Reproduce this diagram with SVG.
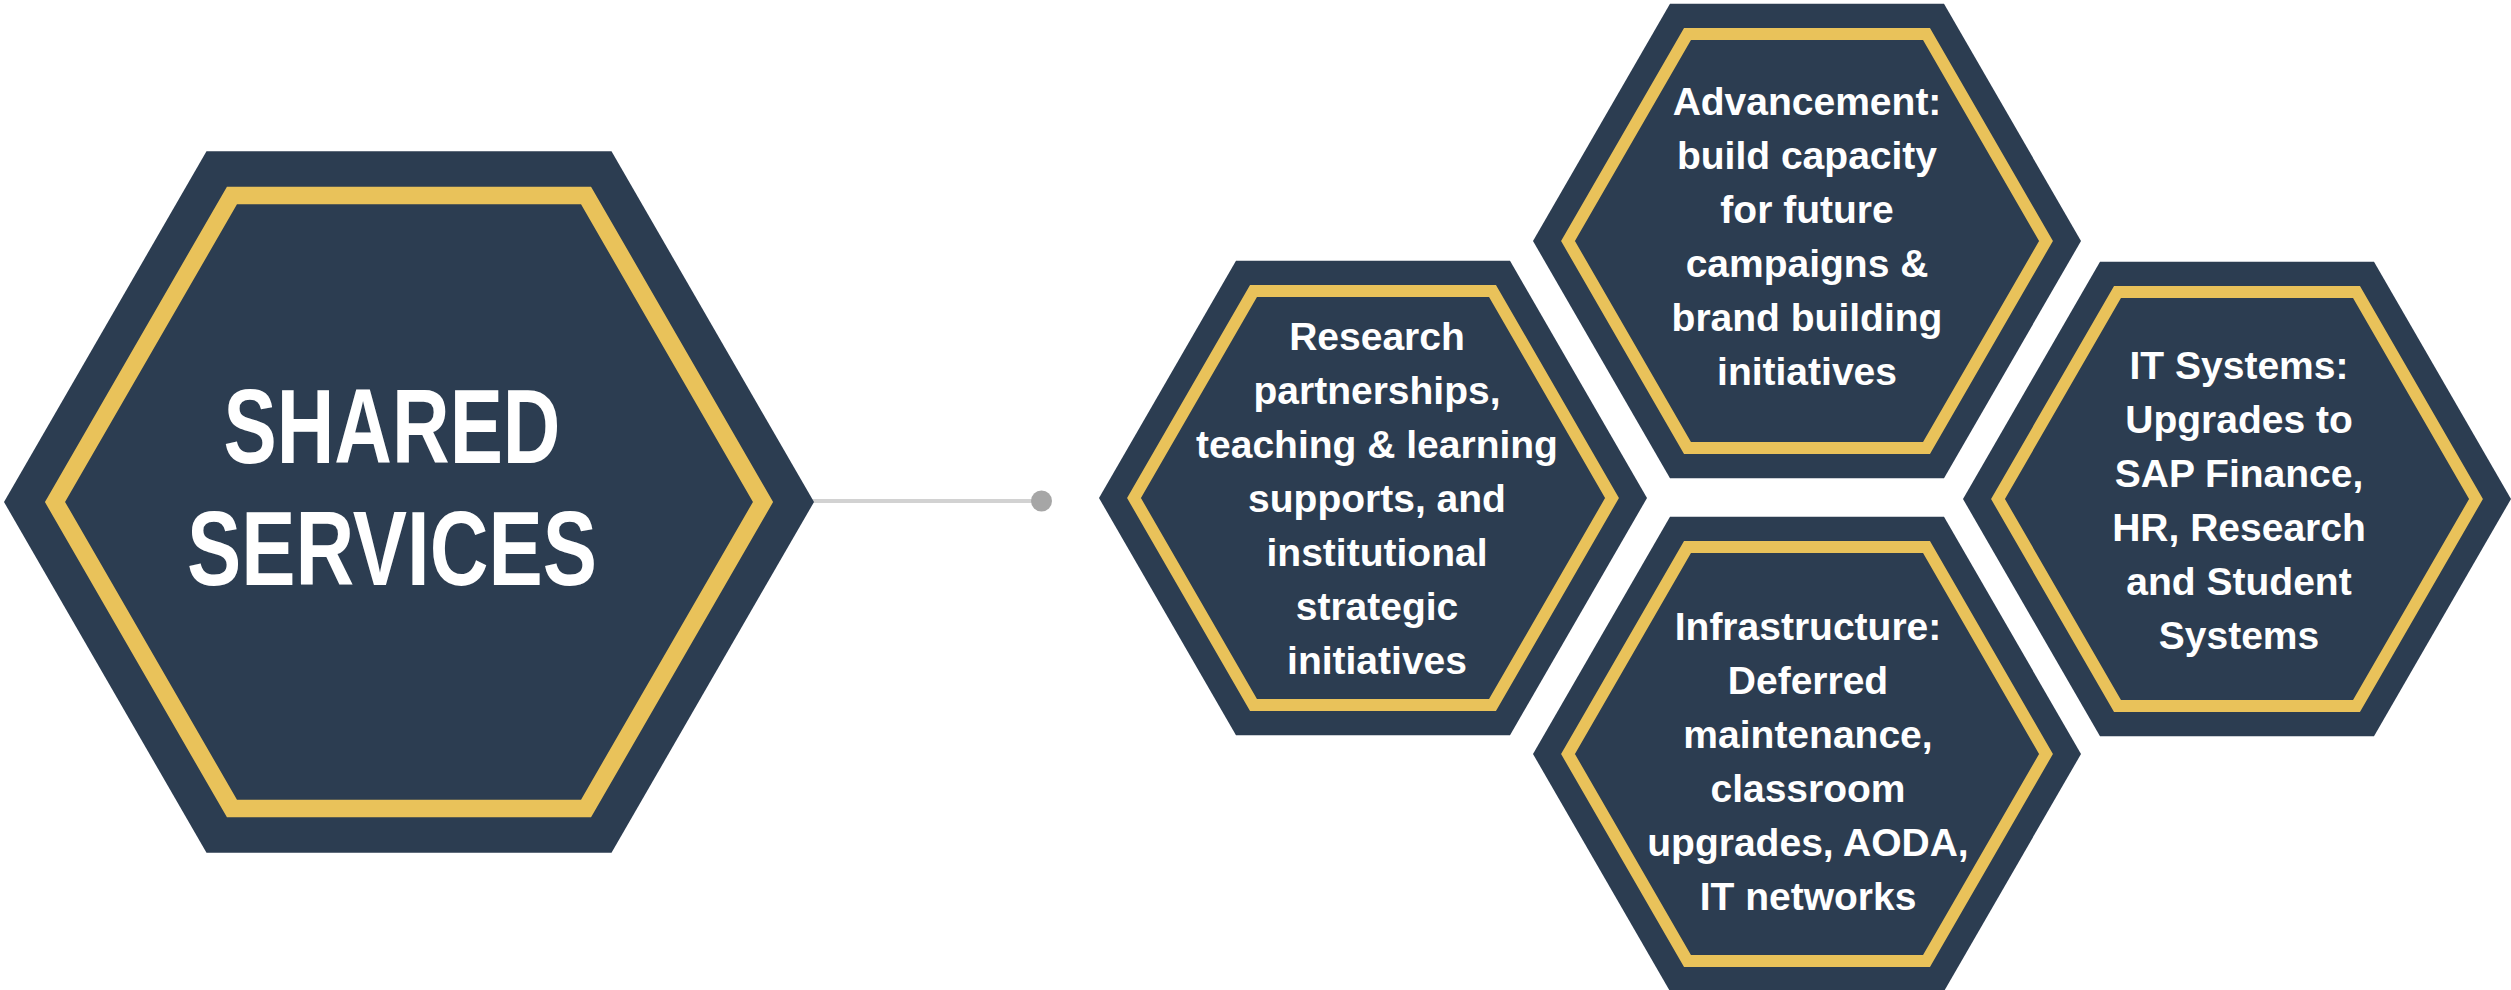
<svg xmlns="http://www.w3.org/2000/svg" width="2511" height="990" viewBox="0 0 2511 990">
<style>
.hex{fill:#2C3D51;}
.gold{fill:none;stroke:#E9C25A;stroke-linejoin:miter;}
.g1{stroke-width:17.5;}
.g2{stroke-width:12;}
.t{font-family:"Liberation Sans",Arial,sans-serif;font-weight:bold;fill:#FFFFFF;text-anchor:middle;}
.big{font-size:105px;}
.sm{font-size:39px;}
</style>
<rect width="2511" height="990" fill="#FFFFFF"/>
<g id="connectors">
<line x1="812" y1="501" x2="1041" y2="501" stroke="#D2D2D2" stroke-width="4"/>
<circle cx="1041.5" cy="501" r="10.5" fill="#A6A6A6"/>
</g>
<g id="node-shared">
<polygon class="hex" points="4,502 206.5,151.3 611.5,151.3 814,502 611.5,852.7 206.5,852.7"/>
<polygon class="gold g1" points="55,502 232,195.4 586,195.4 763,502 586,808.6 232,808.6"/>
<text class="t big" x="392" y="463" textLength="337" lengthAdjust="spacingAndGlyphs">SHARED</text>
<text class="t big" x="392" y="584.5" textLength="410" lengthAdjust="spacingAndGlyphs">SERVICES</text>
</g>
<g id="node-research">
<polygon class="hex" points="1099,498 1236,260.7 1510,260.7 1647,498 1510,735.3 1236,735.3"/>
<polygon class="gold g2" points="1134,498 1253.5,291 1492.5,291 1612,498 1492.5,705 1253.5,705"/>
<text class="t sm" x="1377" y="350">Research</text>
<text class="t sm" x="1377" y="404">partnerships,</text>
<text class="t sm" x="1377" y="458">teaching &amp; learning</text>
<text class="t sm" x="1377" y="512">supports, and</text>
<text class="t sm" x="1377" y="566">institutional</text>
<text class="t sm" x="1377" y="620">strategic</text>
<text class="t sm" x="1377" y="674">initiatives</text>
</g>
<g id="node-advancement">
<polygon class="hex" points="1533,241 1670,3.7 1944,3.7 2081,241 1944,478.3 1670,478.3"/>
<polygon class="gold g2" points="1568,241 1687.5,34 1926.5,34 2046,241 1926.5,448 1687.5,448"/>
<text class="t sm" x="1807" y="115">Advancement:</text>
<text class="t sm" x="1807" y="169">build capacity</text>
<text class="t sm" x="1807" y="223">for future</text>
<text class="t sm" x="1807" y="277">campaigns &amp;</text>
<text class="t sm" x="1807" y="331">brand building</text>
<text class="t sm" x="1807" y="385">initiatives</text>
</g>
<g id="node-infrastructure">
<polygon class="hex" points="1533,754 1670,516.7 1944,516.7 2081,754 1944,991.3 1670,991.3"/>
<polygon class="gold g2" points="1568,754 1687.5,547 1926.5,547 2046,754 1926.5,961 1687.5,961"/>
<text class="t sm" x="1808" y="640">Infrastructure:</text>
<text class="t sm" x="1808" y="694">Deferred</text>
<text class="t sm" x="1808" y="748">maintenance,</text>
<text class="t sm" x="1808" y="802">classroom</text>
<text class="t sm" x="1808" y="856">upgrades, AODA,</text>
<text class="t sm" x="1808" y="910">IT networks</text>
</g>
<g id="node-it">
<polygon class="hex" points="1963,499 2100,261.7 2374,261.7 2511,499 2374,736.3 2100,736.3"/>
<polygon class="gold g2" points="1998,499 2117.5,292 2356.5,292 2476,499 2356.5,706 2117.5,706"/>
<text class="t sm" x="2239" y="379">IT Systems:</text>
<text class="t sm" x="2239" y="433">Upgrades to</text>
<text class="t sm" x="2239" y="487">SAP Finance,</text>
<text class="t sm" x="2239" y="541">HR, Research</text>
<text class="t sm" x="2239" y="595">and Student</text>
<text class="t sm" x="2239" y="649">Systems</text>
</g>
</svg>
